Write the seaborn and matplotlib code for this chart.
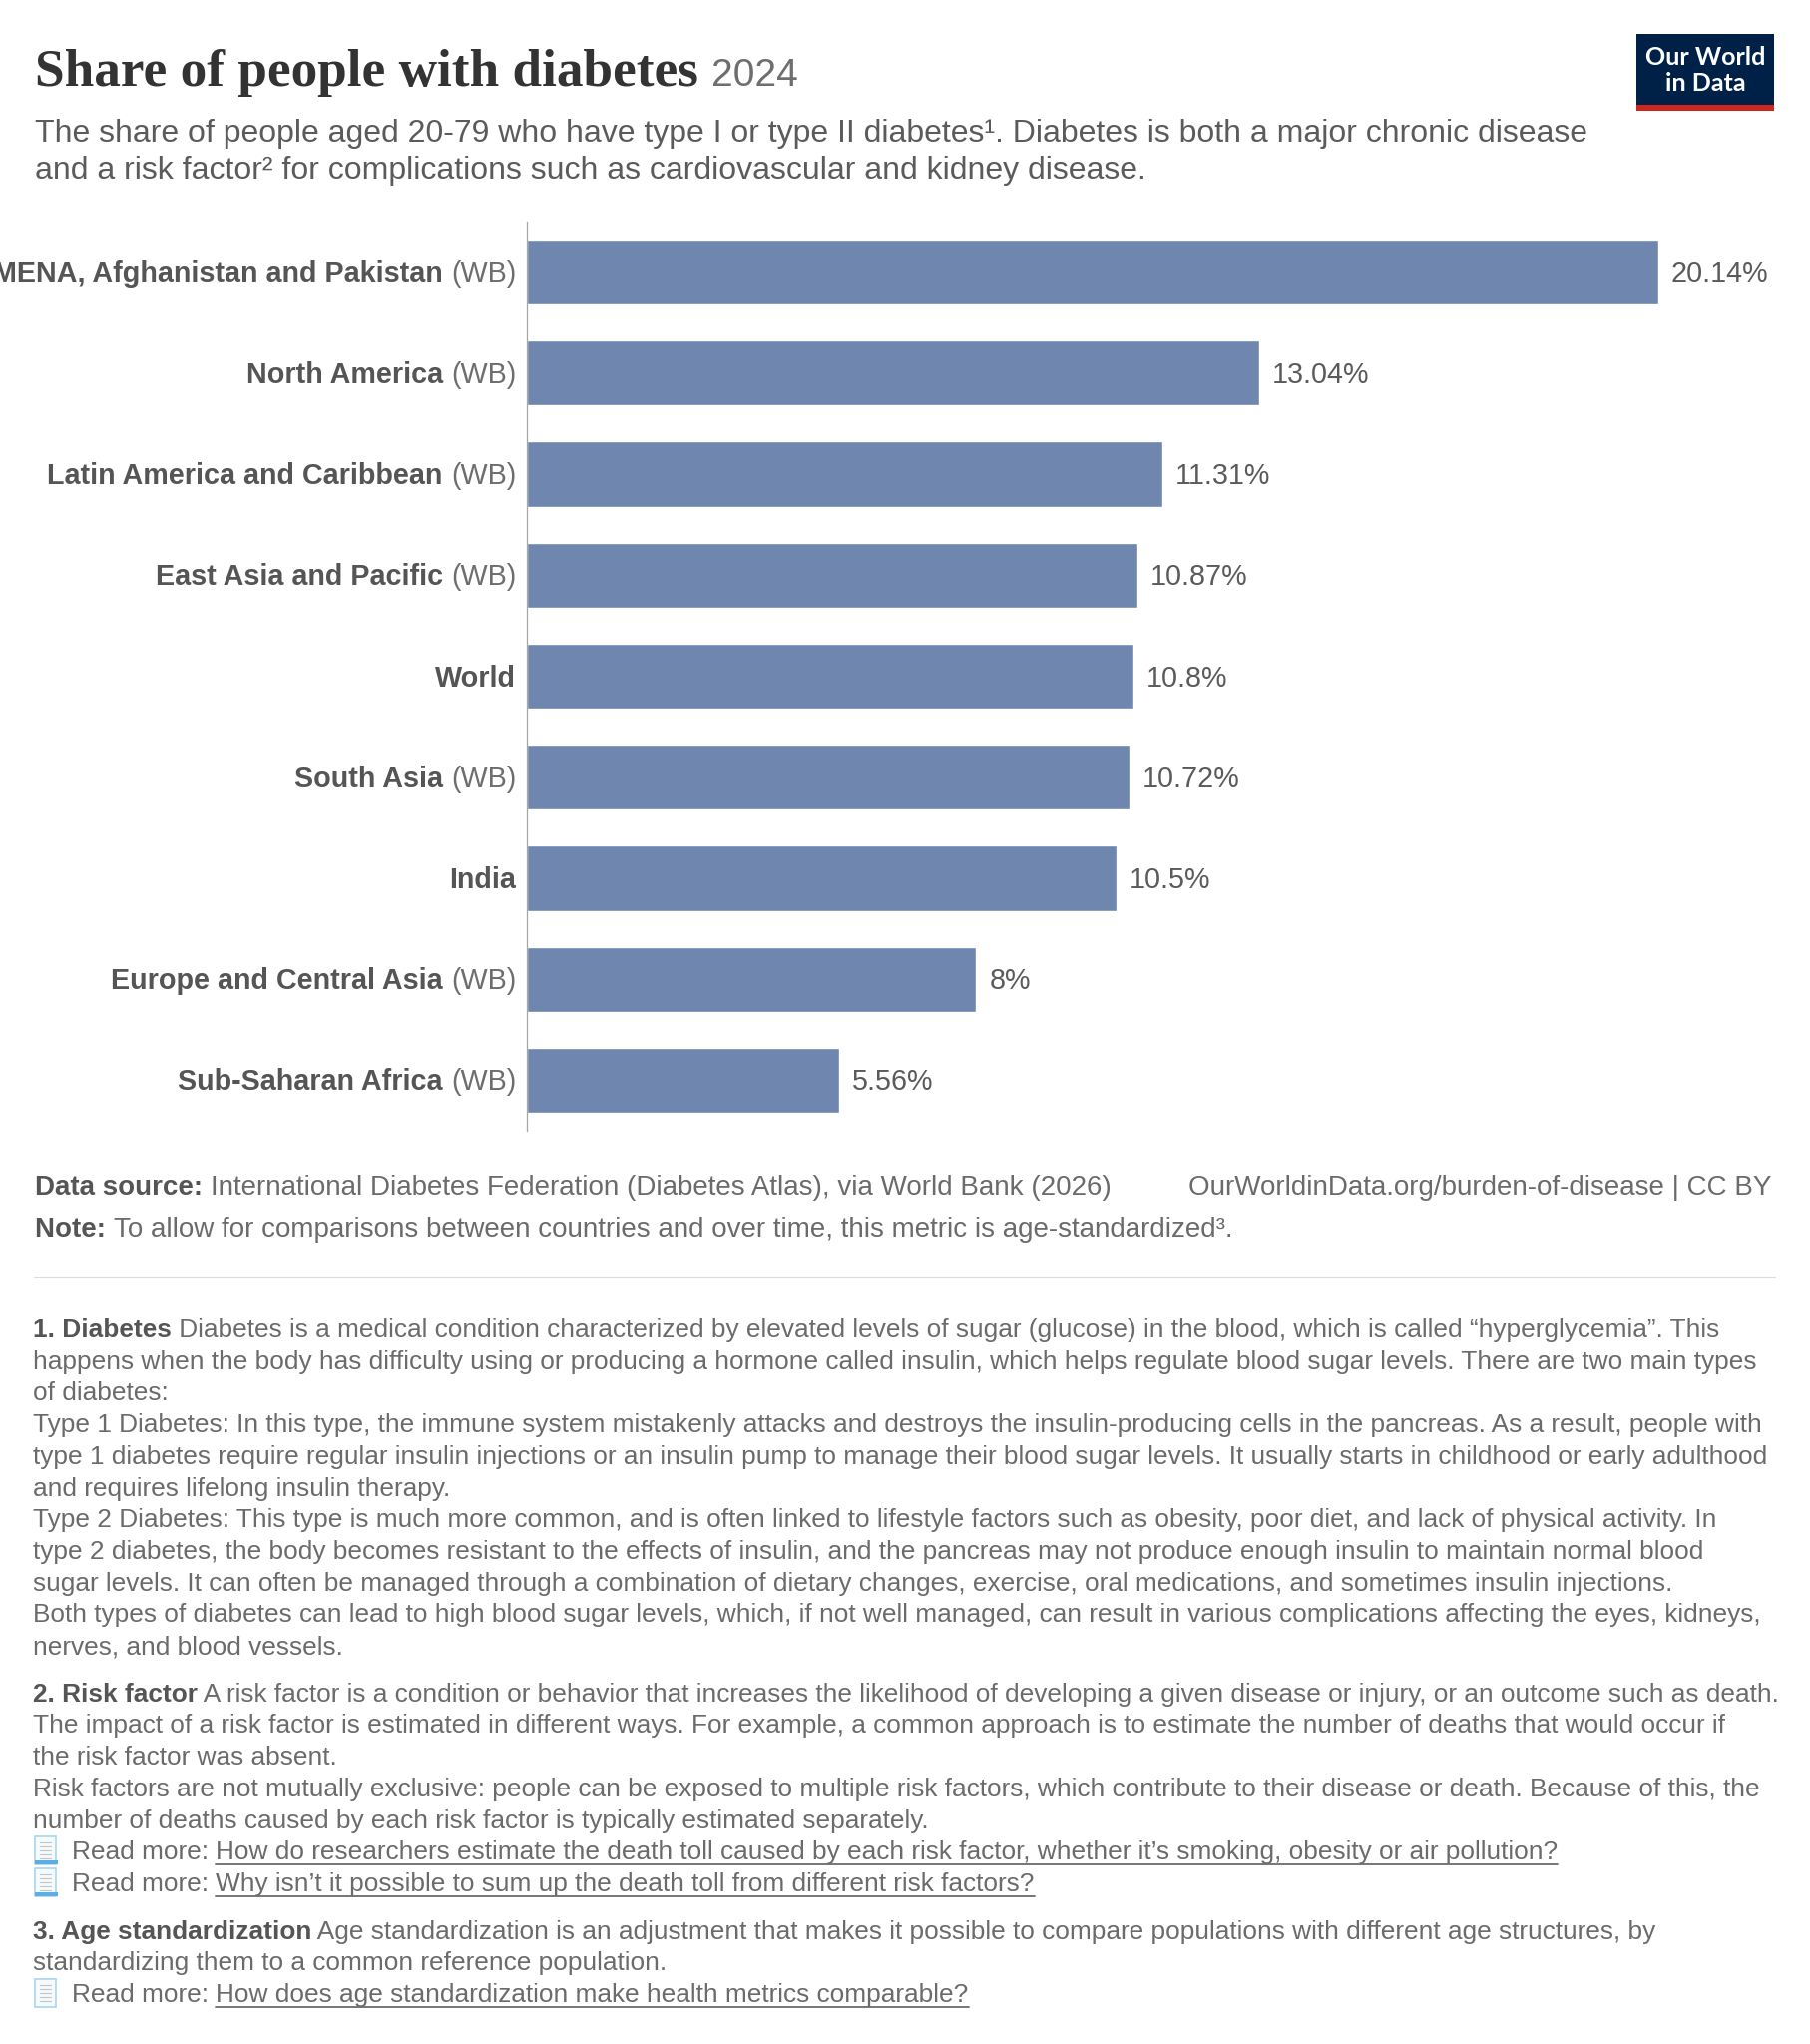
import matplotlib
matplotlib.use("Agg")
import matplotlib.pyplot as plt
from matplotlib.lines import Line2D
from matplotlib.patches import Rectangle
from matplotlib.transforms import IdentityTransform
import pandas as pd
import seaborn as sns

# --- data -------------------------------------------------------------
regions = [
    "MENA, Afghanistan and Pakistan (WB)",
    "North America (WB)",
    "Latin America and Caribbean (WB)",
    "East Asia and Pacific (WB)",
    "World",
    "South Asia (WB)",
    "India",
    "Europe and Central Asia (WB)",
    "Sub-Saharan Africa (WB)",
]
shares = [20.14, 13.04, 11.31, 10.87, 10.8, 10.72, 10.5, 8, 5.56]

title = "Share of people with diabetes"
year = "2024"
subtitle = [
    "The share of people aged 20-79 who have type I or type II diabetes¹. Diabetes is both a major chronic disease",
    "and a risk factor² for complications such as cardiovascular and kidney disease.",
]
source = "International Diabetes Federation (Diabetes Atlas), via World Bank (2026)"
note = "To allow for comparisons between countries and over time, this metric is age-standardized³."
url = "OurWorldinData.org/burden-of-disease | CC BY"

# footnotes: each line is a list of (text, style); style b=bold, r=regular, u=link
footnote_1 = [
    [("1. Diabetes", "b"), (" Diabetes is a medical condition characterized by elevated levels of sugar (glucose) in the blood, which is called “hyperglycemia”. This", "r")],
    [("happens when the body has difficulty using or producing a hormone called insulin, which helps regulate blood sugar levels. There are two main types", "r")],
    [("of diabetes:", "r")],
    [("Type 1 Diabetes: In this type, the immune system mistakenly attacks and destroys the insulin-producing cells in the pancreas. As a result, people with", "r")],
    [("type 1 diabetes require regular insulin injections or an insulin pump to manage their blood sugar levels. It usually starts in childhood or early adulthood", "r")],
    [("and requires lifelong insulin therapy.", "r")],
    [("Type 2 Diabetes: This type is much more common, and is often linked to lifestyle factors such as obesity, poor diet, and lack of physical activity. In", "r")],
    [("type 2 diabetes, the body becomes resistant to the effects of insulin, and the pancreas may not produce enough insulin to maintain normal blood", "r")],
    [("sugar levels. It can often be managed through a combination of dietary changes, exercise, oral medications, and sometimes insulin injections.", "r")],
    [("Both types of diabetes can lead to high blood sugar levels, which, if not well managed, can result in various complications affecting the eyes, kidneys,", "r")],
    [("nerves, and blood vessels.", "r")],
]
footnote_2 = [
    [("2. Risk factor", "b"), (" A risk factor is a condition or behavior that increases the likelihood of developing a given disease or injury, or an outcome such as death.", "r")],
    [("The impact of a risk factor is estimated in different ways. For example, a common approach is to estimate the number of deaths that would occur if", "r")],
    [("the risk factor was absent.", "r")],
    [("Risk factors are not mutually exclusive: people can be exposed to multiple risk factors, which contribute to their disease or death. Because of this, the", "r")],
    [("number of deaths caused by each risk factor is typically estimated separately.", "r")],
    [("@curl", "i"), ("Read more: ", "r"), ("How do researchers estimate the death toll caused by each risk factor, whether it’s smoking, obesity or air pollution?", "u")],
    [("@curl", "i"), ("Read more: ", "r"), ("Why isn’t it possible to sum up the death toll from different risk factors?", "u")],
]
footnote_3 = [
    [("3. Age standardization", "b"), (" Age standardization is an adjustment that makes it possible to compare populations with different age structures, by", "r")],
    [("standardizing them to a common reference population.", "r")],
    [("@page", "i"), ("Read more: ", "r"), ("How does age standardization make health metrics comparable?", "u")],
]

# --- style ------------------------------------------------------------
W, H = 1814, 2048
BAR = "#6f87ae"
DARK = "#555555"
GREY = "#6b6b6b"

sns.set_theme(style="white")
plt.rcParams["font.family"] = ["Liberation Sans", "DejaVu Sans"]

fig = plt.figure(figsize=(W / 100, H / 100), dpi=100)
fig.patch.set_facecolor("white")
renderer = fig.canvas.get_renderer()
PX = IdentityTransform()


def text_px(x, y, s, **kw):
    # x, y in pixels from the top-left corner
    return fig.text(x, H - y, s, transform=PX, **kw)


def width_px(s, **kw):
    t = fig.text(0, 0, s + "|", transform=PX, **kw)
    b = fig.text(0, 0, "|", transform=PX, **kw)
    w = t.get_window_extent(renderer).width - b.get_window_extent(renderer).width
    t.remove()
    b.remove()
    return w


def page_icon(x, base, curl):
    top = base - 23
    w, h = 21, 28
    fig.patches.append(Rectangle((x, H - top - h), w, h, transform=PX,
                                 facecolor="#f4fafd", edgecolor="#a9d6f0", lw=1.2))
    for k in range(5):
        yy = H - (top + 6 + k * 4)
        fig.add_artist(Line2D([x + 5, x + w - 5], [yy, yy], transform=PX,
                              color="#c4c4c4", lw=0.8))
    if curl:
        fig.patches.append(Rectangle((x, H - top - h), w + 2, 4, transform=PX,
                                     facecolor="#5aaee3", edgecolor="none"))


STY = {
    "b": dict(fontweight="bold", color=DARK),
    "r": dict(color=GREY),
    "u": dict(color=GREY),
}


def draw_runs(x, y, runs, size):
    for s, st in runs:
        if st == "i":
            page_icon(x + 2, y, s == "@curl")
            x = 72
            continue
        kw = dict(STY[st], fontsize=size, va="baseline", ha="left")
        text_px(x, y, s, **kw)
        w = width_px(s, **kw)
        if st == "u":
            fig.add_artist(Line2D([x, x + w], [H - y - 5, H - y - 5], transform=PX,
                                  color=GREY, lw=1.3))
        x += w
    return x


# --- header -----------------------------------------------------------
tkw = dict(family=["Liberation Serif", "DejaVu Serif"], fontweight="bold",
           fontsize=38.3, color="#333333", va="baseline")
text_px(35, 86, title, **tkw)
tw = width_px(title + " ", **tkw)
text_px(35 + tw, 86, year, fontsize=28.0, color="#6e6e6e", va="baseline")

for k, line in enumerate(subtitle):
    text_px(35, 142 + 37 * k, line, fontsize=23.0, color="#5b5b5b", va="baseline")

# logo
fig.patches.append(Rectangle((1640, H - 105), 138, 71, transform=PX,
                             facecolor="#002147", edgecolor="none"))
fig.patches.append(Rectangle((1640, H - 111), 138, 6, transform=PX,
                             facecolor="#ce261e", edgecolor="none"))
for s, yb in [("Our World", 65), ("in Data", 91)]:
    text_px(1709, yb, s, family=["Lato", "DejaVu Sans"], fontweight="bold",
            fontsize=18, color="white", ha="center", va="baseline")

# --- chart ------------------------------------------------------------
df = pd.DataFrame({"region": regions, "share": shares})
ax_left, ax_right, ax_top, ax_bottom = 528, 1777, 222, 1133
ax = fig.add_axes([ax_left / W, 1 - ax_bottom / H,
                   (ax_right - ax_left) / W, (ax_bottom - ax_top) / H])
sns.barplot(data=df, x="share", y="region", color=BAR, saturation=1,
            width=0.645, ax=ax)
ax.set_xlim(0, (ax_right - ax_left) / 56.3)
ax.set_ylim(len(regions) - 0.5, -0.5)
ax.set_xticks([])
ax.set_yticks([])
ax.set_xlabel("")
ax.set_ylabel("")
for side in ["top", "right", "bottom"]:
    ax.spines[side].set_visible(False)
ax.spines["left"].set_color("#a6a6a6")
ax.spines["left"].set_linewidth(0.9)

LAB = 20.7
for i, (lab, v) in enumerate(zip(regions, shares)):
    ax.annotate(f"{v:g}%", xy=(v, i), xytext=(13 * 0.72, -10 * 0.72),
                textcoords="offset points", va="baseline", ha="left",
                fontsize=LAB, color="#5b5b5b")
    yb = H - (ax.transData.transform((0, i))[1] - 10)
    x_right = 517
    if lab.endswith(" (WB)"):
        name = lab[:-5]
        text_px(x_right, yb, "(WB)", fontsize=LAB, color="#6e6e6e",
                ha="right", va="baseline")
        x_right -= width_px(" (WB)", fontsize=LAB)
    else:
        name = lab
    text_px(x_right, yb, name, fontsize=LAB, fontweight="bold", color=DARK,
            ha="right", va="baseline")

# --- footer -----------------------------------------------------------
FS_SRC = 20.0
draw_runs(35, 1197, [("Data source: ", "b"), (source, "r")], FS_SRC)
draw_runs(35, 1239, [("Note: ", "b"), (note, "r")], FS_SRC)
text_px(1775, 1197, url, fontsize=FS_SRC, color=GREY, ha="right", va="baseline")

fig.add_artist(Line2D([35, 1779], [H - 1280, H - 1280], transform=PX,
                      color="#dddddd", lw=1.5))

FS = 18.93
y = 1340
for block in [footnote_1, footnote_2, footnote_3]:
    for runs in block:
        draw_runs(33, y, runs, FS)
        y += 31.7
    y += 16

fig.savefig("out.png", dpi=100, facecolor="white")
